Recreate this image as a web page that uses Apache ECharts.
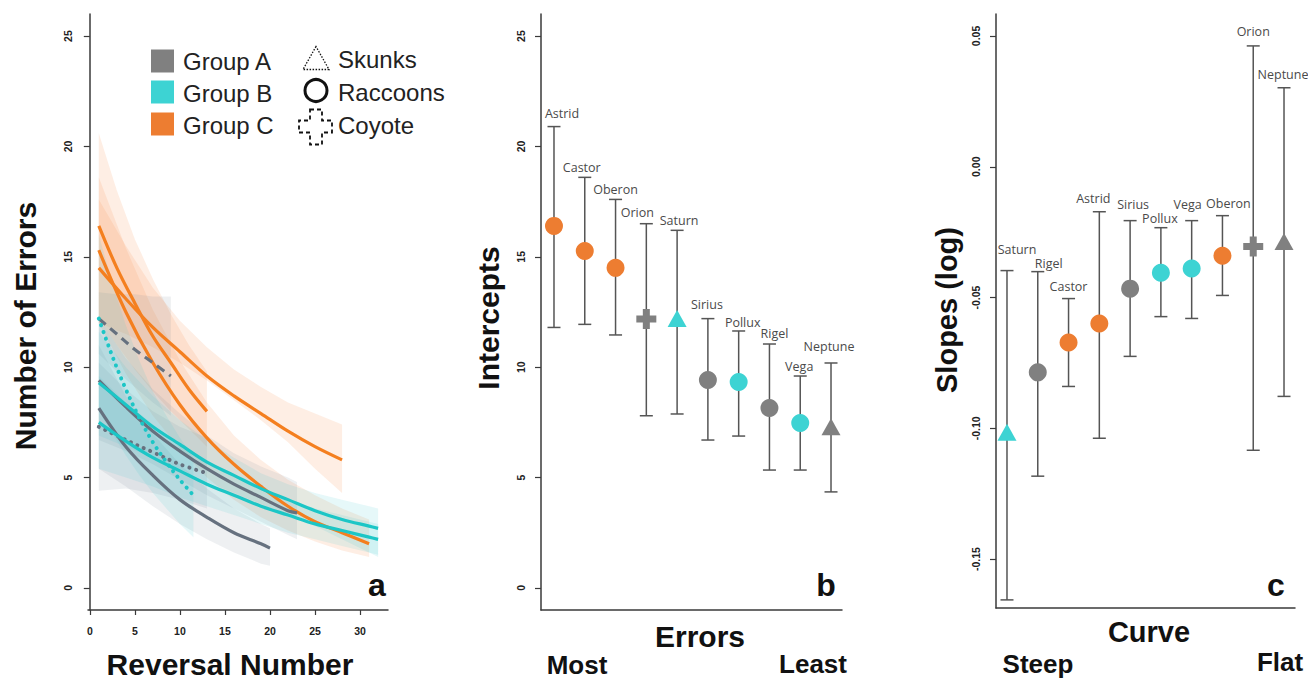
<!DOCTYPE html>
<html>
<head>
<meta charset="utf-8">
<script src="https://cdn.jsdelivr.net/npm/echarts@6/dist/echarts.min.js"></script>
<style>
  html, body { margin: 0; padding: 0; background: #fff; }
  #main { width: 1308px; height: 682px; }
</style>
</head>
<body>
<div id="main"></div>
<script>
// ---- animals: group and species ----
var animalNames   = ['Astrid', 'Castor', 'Oberon', 'Orion', 'Saturn', 'Sirius', 'Pollux', 'Rigel', 'Vega', 'Neptune'];
var animalGroup   = ['C', 'C', 'C', 'A', 'B', 'A', 'B', 'A', 'B', 'A'];
var animalSpecies = ['raccoon', 'raccoon', 'raccoon', 'coyote', 'skunk', 'raccoon', 'raccoon', 'raccoon', 'raccoon', 'skunk'];

// ---- panel a: fitted curves (reversal number, fit, lower band, upper band) ----
var astridRev  = [1, 3, 5, 7, 9, 11, 13];
var astridFit  = [16.4, 14.5, 12.9, 11.4, 10.2, 9.0, 8.0];
var astridLow  = [12.2, 11.0, 9.9, 8.9, 8.0, 7.2, 6.4];
var astridHigh = [20.6, 18.0, 15.8, 14.0, 12.4, 11.0, 9.8];

var castorRev  = [1, 4, 7, 10, 13, 16, 19, 22, 25, 28, 31];
var castorFit  = [15.3, 12.5, 10.2, 8.3, 6.8, 5.6, 4.6, 3.7, 3.0, 2.5, 2.0];
var castorLow  = [12.0, 9.7, 7.8, 6.3, 5.0, 4.0, 3.2, 2.6, 2.1, 1.7, 1.4];
var castorHigh = [18.6, 15.4, 12.6, 10.3, 8.4, 6.9, 5.8, 4.9, 4.2, 3.6, 3.1];

var oberonRev  = [1, 4, 7, 10, 13, 16, 19, 22, 25, 28];
var oberonFit  = [14.5, 13.1, 11.8, 10.7, 9.6, 8.7, 7.9, 7.1, 6.4, 5.8];
var oberonLow  = [12.0, 11.5, 10.9, 10.2, 9.4, 8.5, 7.6, 6.6, 5.4, 4.3];
var oberonHigh = [17.6, 15.5, 13.6, 12.1, 10.9, 9.9, 9.1, 8.4, 7.9, 7.4];

var orionRev  = [1, 3, 5, 7, 9];
var orionFit  = [12.2, 11.5, 10.8, 10.2, 9.6];
var orionLow  = [10.6, 9.8, 9.1, 8.4, 7.8];
var orionHigh = [13.4, 13.3, 13.3, 13.2, 13.2];

var siriusRev  = [1, 4, 7, 10, 13, 16, 19, 22, 23];
var siriusFit  = [9.4, 8.2, 7.1, 6.2, 5.4, 4.7, 4.1, 3.5, 3.4];
var siriusLow  = [6.7, 6.2, 5.6, 4.9, 4.2, 3.6, 3.0, 2.4, 2.2];
var siriusHigh = [12.2, 10.4, 9.0, 7.9, 6.9, 6.1, 5.5, 5.0, 4.8];

var rigelRev  = [1, 4, 7, 10, 13, 16, 19, 20];
var rigelFit  = [8.15, 6.4, 5.1, 4.0, 3.2, 2.5, 2.0, 1.8];
var rigelLow  = [5.4, 4.6, 3.7, 2.9, 2.2, 1.6, 1.1, 1.0];
var rigelHigh = [11.0, 8.7, 7.0, 5.6, 4.5, 3.6, 2.9, 2.7];

var neptuneRev  = [1, 4, 7, 10, 13];
var neptuneFit  = [7.3, 6.7, 6.15, 5.6, 5.2];
var neptuneLow  = [4.4, 4.5, 4.3, 4.0, 3.6];
var neptuneHigh = [10.2, 9.0, 8.0, 7.3, 6.8];

var saturnRev  = [1, 2.5, 4, 5.5, 7, 8.5, 10, 11.5];
var saturnFit  = [12.2, 10.5, 9.0, 7.7, 6.6, 5.7, 4.9, 4.2];
var saturnLow  = [8.0, 7.0, 6.0, 5.1, 4.3, 3.6, 2.9, 2.3];
var saturnHigh = [16.0, 13.8, 11.9, 10.3, 8.9, 7.8, 6.8, 5.9];

var polluxRev  = [1, 4, 7, 10, 13, 16, 19, 22, 25, 28, 31, 32];
var polluxFit  = [9.3, 8.3, 7.3, 6.5, 5.7, 5.1, 4.5, 4.0, 3.5, 3.1, 2.8, 2.7];
var polluxLow  = [6.9, 6.4, 5.9, 5.4, 4.8, 4.3, 3.8, 3.3, 2.8, 2.2, 1.6, 1.4];
var polluxHigh = [11.6, 10.0, 8.7, 7.6, 6.7, 5.9, 5.2, 4.7, 4.3, 4.0, 3.7, 3.6];

var vegaRev  = [1, 4, 7, 10, 13, 16, 19, 22, 25, 28, 31, 32];
var vegaFit  = [7.5, 6.65, 5.9, 5.3, 4.7, 4.2, 3.7, 3.3, 2.9, 2.6, 2.3, 2.2];
var vegaLow  = [5.4, 5.0, 4.6, 4.1, 3.7, 3.3, 2.9, 2.5, 2.2, 1.9, 1.6, 1.5];
var vegaHigh = [9.6, 8.4, 7.4, 6.5, 5.8, 5.1, 4.5, 4.0, 3.6, 3.3, 3.0, 2.9];

// ---- panel b: intercepts, most to least errors ----
var interceptOrder = ['Astrid', 'Castor', 'Oberon', 'Orion', 'Saturn', 'Sirius', 'Pollux', 'Rigel', 'Vega', 'Neptune'];
var interceptValue = [16.4, 15.26, 14.5, 12.18, 12.2, 9.42, 9.33, 8.15, 7.47, 7.3];
var interceptLow   = [11.8, 11.94, 11.46, 7.8, 7.88, 6.7, 6.88, 5.34, 5.34, 4.35];
var interceptHigh  = [20.9, 18.6, 17.6, 16.5, 16.2, 12.2, 11.64, 11.05, 9.6, 10.19];

// ---- panel c: slopes (log), steep to flat ----
var slopeOrder = ['Saturn', 'Rigel', 'Castor', 'Astrid', 'Sirius', 'Pollux', 'Vega', 'Oberon', 'Orion', 'Neptune'];
var slopeValue = [-0.1015, -0.0786, -0.0672, -0.0599, -0.0466, -0.0405, -0.0389, -0.034, -0.0305, -0.0286];
var slopeLow   = [-0.1656, -0.1183, -0.084, -0.1038, -0.0725, -0.0573, -0.058, -0.0492, -0.1084, -0.0878];
var slopeHigh  = [-0.0397, -0.0401, -0.0504, -0.0172, -0.0206, -0.0233, -0.0206, -0.0187, 0.0462, 0.0302];

// ---- tick labels ----
var errorTicks = [0, 5, 10, 15, 20, 25];
var reversalTicks = [0, 5, 10, 15, 20, 25, 30];
var slopeTicks = [-0.15, -0.10, -0.05, 0, 0.05];

// ---- styles ----
var markerColor = { A: '#808080', B: '#3dd3d3', C: '#ed7d31' };
var lineColor = { A: '#66717f', B: '#1cc6c6', C: '#f47f1f' };
var bandColor = { A: 'rgba(115,130,150,0.12)', B: 'rgba(60,200,205,0.13)', C: 'rgba(248,150,85,0.16)' };
var lineDash = { raccoon: 'solid', coyote: [9, 6], skunk: [0.1, 7] };
var plusPath = 'path://M6.5,0H13.5V6.5H20V13.5H13.5V20H6.5V13.5H0V6.5H6.5Z';

// name label nudges (px) from the top of each error bar, as placed in the figure
var interceptLabelShift = [[8, -13], [-3, -10], [0, -10], [-9, -11], [2, -10], [-1, -14], [4, -8], [5, -11], [-1, -10], [-2, -16]];
var slopeLabelShift = [[10, -21], [11, -8], [0, -12], [-6, -13], [3, -16], [-1, -9], [-4, -16], [6, -12], [0, -14], [-1, -13]];

var axisColor = '#3a3a3a';
var tickFont = { fontSize: 10.5, fontWeight: 'bold', color: '#222', fontFamily: 'Liberation Sans' };

var chartDom = document.getElementById('main');
var myChart = echarts.init(chartDom, null, { renderer: 'svg' });

function infoOf(name) {
  var i = animalNames.indexOf(name);
  return { group: animalGroup[i], species: animalSpecies[i] };
}

// one shaded band + fitted line for panel a
function curveSeries(name, rev, fit, low, high) {
  var info = infoOf(name);
  var band = {
    type: 'custom',
    xAxisIndex: 0,
    yAxisIndex: 0,
    silent: true,
    z: 1,
    data: [[rev[0], low[0], high[0]]],
    renderItem: function (params, api) {
      var pts = [];
      for (var i = 0; i < rev.length; i++) pts.push(api.coord([rev[i], high[i]]));
      for (var j = rev.length - 1; j >= 0; j--) pts.push(api.coord([rev[j], low[j]]));
      return { type: 'polygon', shape: { points: pts }, style: { fill: bandColor[info.group] } };
    }
  };
  var line = {
    type: 'line',
    name: name,
    xAxisIndex: 0,
    yAxisIndex: 0,
    z: 3,
    smooth: 0.35,
    showSymbol: false,
    silent: true,
    data: rev.map(function (x, i) { return [x, fit[i]]; }),
    lineStyle: {
      color: lineColor[info.group],
      width: info.species === 'skunk' ? 4 : 3.2,
      type: lineDash[info.species],
      cap: info.species === 'skunk' ? 'round' : 'butt'
    }
  };
  return [band, line];
}

function errorBarSeries(axisIdx, order, low, high, shift) {
  return {
    type: 'custom',
    xAxisIndex: axisIdx,
    yAxisIndex: axisIdx,
    silent: true,
    z: 2,
    data: order.map(function (n, i) { return [i + 1, low[i], high[i]]; }),
    encode: { x: 0, y: [1, 2] },
    renderItem: function (params, api) {
      var x = api.value(0);
      var top = api.coord([x, api.value(2)]);
      var bot = api.coord([x, api.value(1)]);
      var cap = 6.5;
      var d = shift[params.dataIndex];
      var st = { stroke: '#555', lineWidth: 1.5 };
      return {
        type: 'group',
        children: [
          { type: 'line', shape: { x1: top[0], y1: top[1], x2: bot[0], y2: bot[1] }, style: st },
          { type: 'line', shape: { x1: top[0] - cap, y1: top[1], x2: top[0] + cap, y2: top[1] }, style: st },
          { type: 'line', shape: { x1: bot[0] - cap, y1: bot[1], x2: bot[0] + cap, y2: bot[1] }, style: st },
          {
            type: 'text', x: top[0] + d[0], y: top[1] + d[1],
            style: {
              text: order[params.dataIndex], fill: '#4a4a4a',
              font: '12.5px "Open Sans"', textAlign: 'center', textVerticalAlign: 'middle'
            }
          }
        ]
      };
    }
  };
}

function markerSeries(axisIdx, order, values) {
  return {
    type: 'scatter',
    xAxisIndex: axisIdx,
    yAxisIndex: axisIdx,
    silent: true,
    z: 4,
    data: order.map(function (n, i) {
      var info = infoOf(n);
      var sym = 'circle', size = 18;
      if (info.species === 'skunk') { sym = 'triangle'; size = [19, 17]; }
      if (info.species === 'coyote') { sym = plusPath; size = 20; }
      return { value: [i + 1, values[i]], symbol: sym, symbolSize: size, itemStyle: { color: markerColor[info.group], opacity: 1 } };
    })
  };
}

function yAxisCfg(gridIdx, min, max, ticks, fmt) {
  return {
    type: 'value', gridIndex: gridIdx, min: min, max: max,
    splitLine: { show: false },
    axisLine: { show: true, lineStyle: { color: axisColor, width: 1.5 } },
    axisTick: { show: true, length: 6, customValues: ticks, lineStyle: { color: axisColor, width: 1.2 } },
    axisLabel: Object.assign({ customValues: ticks, rotate: 90, margin: 15, formatter: fmt }, tickFont)
  };
}

function plainXAxis(gridIdx, min, max) {
  return {
    type: 'value', gridIndex: gridIdx, min: min, max: max,
    splitLine: { show: false },
    axisLine: { show: true, onZero: false, lineStyle: { color: axisColor, width: 1.5 } },
    axisTick: { show: false },
    axisLabel: { show: false }
  };
}

function title(text, x, y, size, rotate) {
  return {
    type: 'text', x: x, y: y, rotation: rotate ? Math.PI / 2 : 0, silent: true,
    style: {
      text: text, fill: '#111', font: 'bold ' + size + 'px "Liberation Sans"',
      textAlign: 'center', textVerticalAlign: 'middle'
    }
  };
}

function legendText(text, x, y) {
  return {
    type: 'text', x: x, y: y, silent: true,
    style: { text: text, fill: '#222', font: '24px "Liberation Sans"', textVerticalAlign: 'middle' }
  };
}

var series = []
  .concat(curveSeries('Oberon', oberonRev, oberonFit, oberonLow, oberonHigh))
  .concat(curveSeries('Castor', castorRev, castorFit, castorLow, castorHigh))
  .concat(curveSeries('Astrid', astridRev, astridFit, astridLow, astridHigh))
  .concat(curveSeries('Orion', orionRev, orionFit, orionLow, orionHigh))
  .concat(curveSeries('Sirius', siriusRev, siriusFit, siriusLow, siriusHigh))
  .concat(curveSeries('Rigel', rigelRev, rigelFit, rigelLow, rigelHigh))
  .concat(curveSeries('Neptune', neptuneRev, neptuneFit, neptuneLow, neptuneHigh))
  .concat(curveSeries('Saturn', saturnRev, saturnFit, saturnLow, saturnHigh))
  .concat(curveSeries('Pollux', polluxRev, polluxFit, polluxLow, polluxHigh))
  .concat(curveSeries('Vega', vegaRev, vegaFit, vegaLow, vegaHigh));

series.push(errorBarSeries(1, interceptOrder, interceptLow, interceptHigh, interceptLabelShift));
series.push(markerSeries(1, interceptOrder, interceptValue));
series.push(errorBarSeries(2, slopeOrder, slopeLow, slopeHigh, slopeLabelShift));
series.push(markerSeries(2, slopeOrder, slopeValue));

var option = {
  animation: false,
  backgroundColor: '#fff',
  grid: [
    { left: 88, top: 14, width: 300, height: 596, outerBoundsMode: 'none' },
    { left: 541, top: 14, width: 301, height: 596, outerBoundsMode: 'none' },
    { left: 996, top: 14, width: 299, height: 594, outerBoundsMode: 'none' }
  ],
  xAxis: [
    {
      type: 'value', gridIndex: 0, min: -0.2, max: 33.1,
      splitLine: { show: false },
      axisLine: { show: true, onZero: false, lineStyle: { color: axisColor, width: 1.5 } },
      axisTick: { show: true, length: 5, customValues: reversalTicks, lineStyle: { color: axisColor, width: 1.2 } },
      axisLabel: Object.assign({ customValues: reversalTicks, margin: 15 }, tickFont)
    },
    plainXAxis(1, 0.578, 10.357),
    plainXAxis(2, 0.643, 10.357)
  ],
  yAxis: [
    yAxisCfg(0, -1, 26, errorTicks),
    yAxisCfg(1, -1, 26, errorTicks),
    yAxisCfg(2, -0.1687, 0.0584, slopeTicks, function (v) { return v.toFixed(2); })
  ],
  graphic: [
    title('Number of Errors', 25, 326, 30, true),
    title('Reversal Number', 230, 664, 30),
    title('Intercepts', 488, 318, 30, true),
    title('Errors', 700, 636, 30),
    title('Most', 577, 665, 26),
    title('Least', 813, 664, 26),
    title('Slopes (log)', 947, 310, 29, true),
    title('Curve', 1149, 632, 29),
    title('Steep', 1038, 664, 26),
    title('Flat', 1280, 662, 26),
    title('a', 377, 585, 32),
    title('b', 826, 585, 32),
    title('c', 1276, 585, 32),
    // legend of panel a
    {
      type: 'group', left: 151, top: 44, silent: true,
      children: [
        { type: 'rect', shape: { x: 0, y: 3, width: 23, height: 23 }, style: { fill: markerColor.A } },
        { type: 'rect', shape: { x: 0, y: 34, width: 23, height: 23 }, style: { fill: markerColor.B } },
        { type: 'rect', shape: { x: 0, y: 66, width: 23, height: 23 }, style: { fill: markerColor.C } },
        legendText('Group A', 32, 15),
        legendText('Group B', 32, 47),
        legendText('Group C', 32, 79),
        { type: 'polygon', shape: { points: [[165, 0], [152, 23], [178, 23]] },
          style: { fill: 'none', stroke: '#111', lineWidth: 1.3, lineDash: [1.5, 1.5] } },
        { type: 'circle', shape: { cx: 165, cy: 44, r: 11 }, style: { fill: 'none', stroke: '#111', lineWidth: 3 } },
        { type: 'polygon',
          shape: { points: [[159, 63], [171, 63], [171, 74], [181, 74], [181, 86], [171, 86], [171, 98], [159, 98], [159, 86], [148, 86], [148, 74], [159, 74]] },
          style: { fill: 'none', stroke: '#111', lineWidth: 1.8, lineDash: [4, 3] } },
        legendText('Skunks', 187, 13),
        legendText('Raccoons', 187, 46),
        legendText('Coyote', 187, 79)
      ]
    }
  ],
  series: series
};

option && myChart.setOption(option);
</script>
</body>
</html>
